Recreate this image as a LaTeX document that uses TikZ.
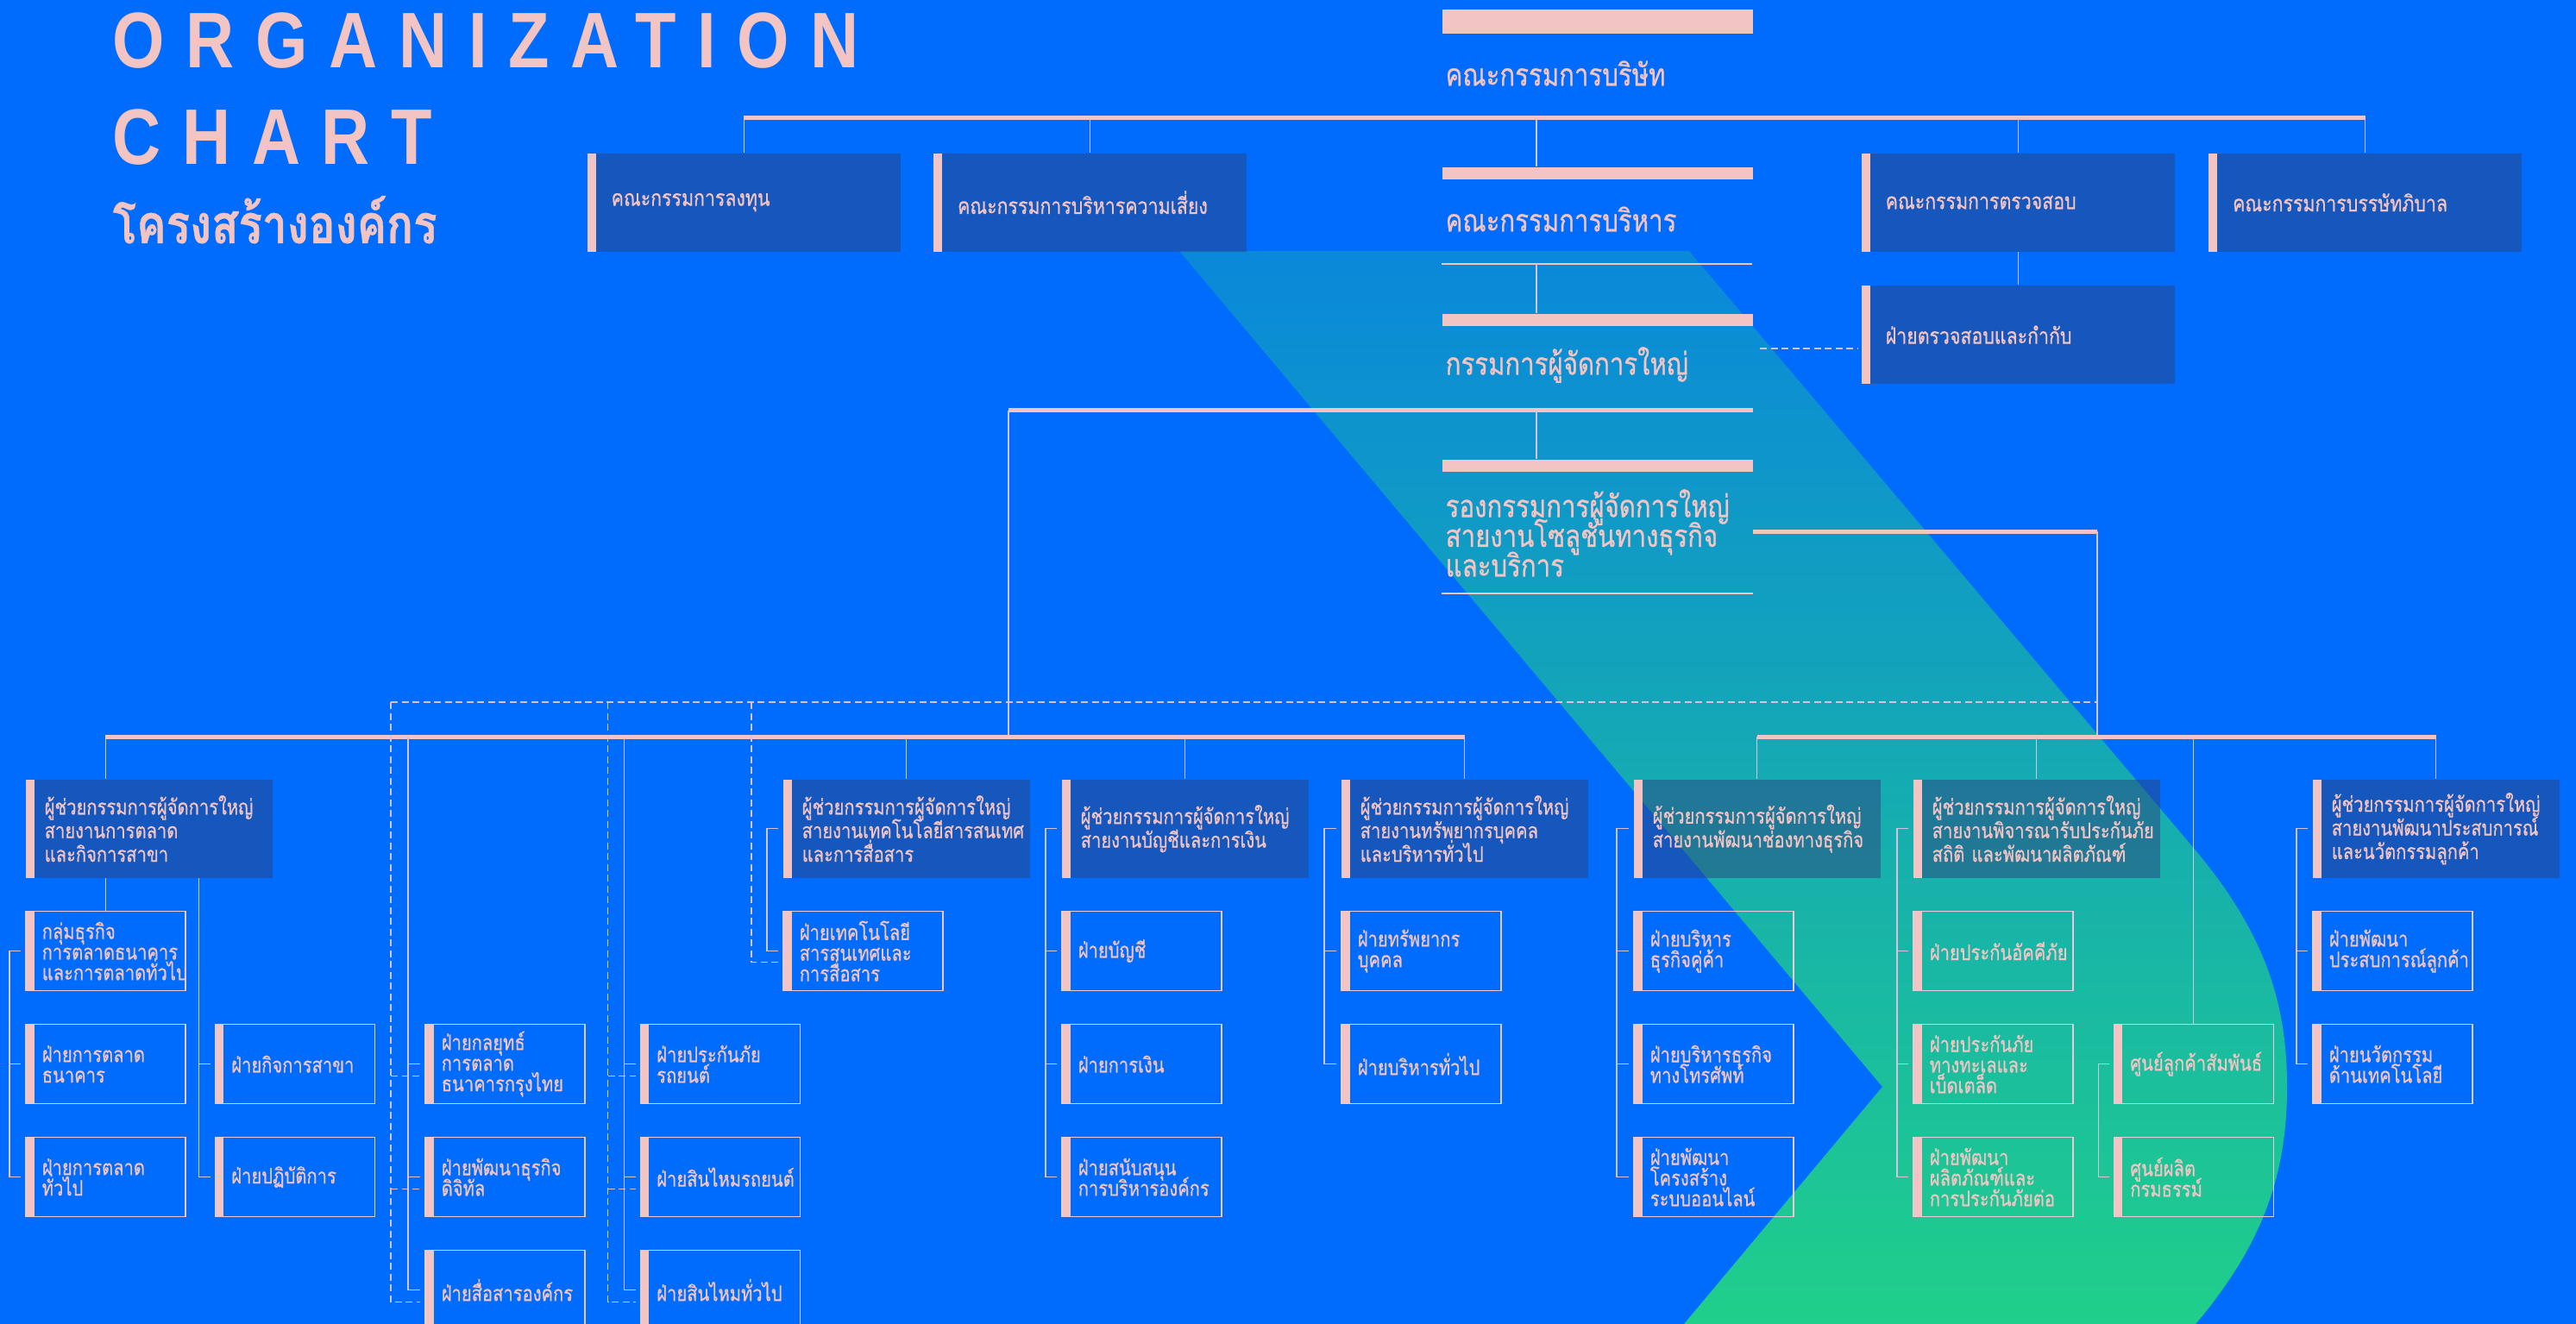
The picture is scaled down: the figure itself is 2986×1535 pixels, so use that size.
\documentclass[tikz,border=0pt]{standalone}
\usepackage{fontspec}
\setmainfont{Loma}[Script=Thai,FakeStretch=0.82,FakeBold=0.7]
\newfontfamily\orgtitle{Liberation Sans}[FakeStretch=0.85,LetterSpace=27]
\usetikzlibrary{positioning}
\definecolor{bgblue}{RGB}{0,108,254}
\definecolor{pinkc}{RGB}{243,196,196}
\definecolor{navy}{RGB}{44,67,126}
\definecolor{linec}{RGB}{210,196,222}
\definecolor{subline}{RGB}{232,202,216}
\definecolor{bandtop}{RGB}{10,136,218}
\definecolor{bandbot}{RGB}{32,207,138}
\lineskiplimit=-20pt
\newcommand\headfont{\fontsize{7}{7.8}\selectfont\lineskiplimit=-20pt}
\newcommand\topfont{\fontsize{7.4}{7.8}\selectfont\lineskiplimit=-20pt}
\newcommand\subfont{\fontsize{7}{6.8}\selectfont\lineskiplimit=-20pt}
\newcommand\cardfont{\fontsize{10.2}{9.8}\selectfont\lineskiplimit=-20pt}

\begin{document}
\begin{tikzpicture}[x=0.1mm,y=-0.1mm,node distance=3.75mm,
  head node/.style={rectangle,anchor=north west,fill=navy,fill opacity=0.5,text opacity=1,text=pinkc,
    align=left,text width=24.2mm,inner xsep=2.2mm,inner ysep=0pt,minimum height=11.4mm,font=\headfont,
    path picture={\fill[pinkc,fill opacity=1] (path picture bounding box.north west) rectangle ([xshift=1mm]path picture bounding box.south west);}},
  top node/.style={head node,text width=30.7mm,inner xsep=2.8mm,font=\topfont},
  sub node/.style={rectangle,anchor=north west,draw=subline,line width=0.15mm,text=pinkc,
    align=left,text width=14.7mm,inner xsep=1.9mm,inner ysep=0pt,minimum height=9.2mm,font=\subfont,
    path picture={\fill[pinkc] (path picture bounding box.north west) rectangle ([xshift=1mm]path picture bounding box.south west);}},
  card bar/.style={rectangle,anchor=north west,fill=pinkc,minimum width=36mm,minimum height=1.4mm,inner sep=0pt},
  card text/.style={anchor=west,inner sep=0pt,text=pinkc,align=left,font=\cardfont},
  bus/.style={pinkc,line width=0.5mm},
  rule/.style={pinkc,line width=0.15mm},
  link/.style={linec,line width=0.12mm},
  dashlink/.style={linec,line width=0.12mm,dash pattern=on 0.8mm off 0.45mm}]
\useasboundingbox (0,0) rectangle (2986,1535);
\fill[bgblue] (0,0) rectangle (2986,1535);
% band behind the chart
\shade[top color=bandtop,bottom color=bandbot] (1367,291) -- (1958,291) -- (2540,980)
  .. controls (2630,1085) and (2651,1170) .. (2651,1260)
  .. controls (2651,1350) and (2630,1435) .. (2545,1535) -- (1952,1535) -- (2182,1260) -- cycle;

% title
\node[anchor=base west,inner sep=0pt,text=pinkc,font={\orgtitle\bfseries\fontsize{26}{26}\selectfont}] (org) at (130,79) {ORGANIZATION};
\node[anchor=base west,inner sep=0pt,text=pinkc,font={\orgtitle\bfseries\fontsize{26}{26}\selectfont}] (chart) at (130,191) {CHART};
\node[anchor=base west,inner sep=0pt,text=pinkc,font={\bfseries\fontsize{17.8}{20}\selectfont}] (thaititle) at (130,282) {โครงสร้างองค์กร};

% board level
\coordinate (busA) at (0,137);
\coordinate (spine) at (1781,0);
\node[card bar,minimum height=2.8mm] (boardbar) at (1671,10) {};
\node[card text] (board) at (1675,85) {คณะกรรมการบริษัท};
\node[top node] (inv) at (680,177) {คณะกรรมการลงทุน};
\node[top node,right=3.7mm of inv] (risk) {คณะกรรมการบริหารความเสี่ยง};
\node[top node] (audit) at (2157,177) {คณะกรรมการตรวจสอบ};
\node[top node,right=3.8mm of audit] (gov) {คณะกรรมการบรรษัทภิบาล};
\node[top node,below=3.8mm of audit] (auditsub) {ฝ่ายตรวจสอบและกำกับ};

\node[card bar] (execbar) at (1671,193) {};
\node[card text] (exec) at (1675,254) {คณะกรรมการบริหาร};
\coordinate (execrule) at (1671,306);
\node[card bar] (mdbar) at (1671,363) {};
\node[card text] (md) at (1675,423) {กรรมการผู้จัดการใหญ่};
\coordinate (mdlink) at (2040,404);
\coordinate (mdline) at (1169,476);
\node[card bar] (vpbar) at (1671,532) {};
\node[card text] (vp) at (1675,618) {รองกรรมการผู้จัดการใหญ่\\สายงานโซลูชั่นทางธุรกิจ\\และบริการ};
\coordinate (vprule) at (1671,688);
\coordinate (vpturn) at (2431,616);
\coordinate (bus2) at (0,854);
\coordinate (dtop) at (0,814);

\draw[bus] (inv.north |- busA) -- (gov.north |- busA);
\foreach \n in {inv,risk,audit,gov} \draw[link] (\n.north |- busA) -- (\n.north);
\draw[link] (spine |- busA) -- (spine |- execbar.north);
\draw[link] (audit.south) -- (auditsub.north);
\draw[rule] (execrule) -- ++(360,0);
\draw[link] (spine |- execrule) -- (spine |- mdbar.north);
\draw[dashlink] (mdlink) -- ([xshift=-0.4mm]auditsub.west |- mdlink);
\draw[bus] (mdline) -- (mdbar.east |- mdline);
\draw[link] (spine |- mdline) -- (spine |- vpbar.north);
\draw[rule] (vprule) -- ++(361,0);
\draw[bus] (vpbar.east |- vpturn) -- (vpturn);
\draw[link] (vpturn) -- (vpturn |- bus2);
\draw[link] (mdline) -- (mdline |- bus2);

% assistant managers and divisions
\node[head node] (h1) at (29,903) {ผู้ช่วยกรรมการผู้จัดการใหญ่\\สายงานการตลาด\\และกิจการสาขา};
\node[sub node,below=of h1.south west,anchor=north west] (a1) {กลุ่มธุรกิจ\\การตลาดธนาคาร\\และการตลาดทั่วไป};
\node[sub node,below=of a1] (a2) {ฝ่ายการตลาด\\ธนาคาร};
\node[sub node,below=of a2] (a3) {ฝ่ายการตลาด\\ทั่วไป};
\node[sub node,right=3.3mm of a2] (b2) {ฝ่ายกิจการสาขา};
\node[sub node,below=of b2] (b3) {ฝ่ายปฏิบัติการ};
\node[sub node,right=5.7mm of b2] (c2) {ฝ่ายกลยุทธ์\\การตลาด\\ธนาคารกรุงไทย};
\node[sub node,below=of c2] (c3) {ฝ่ายพัฒนาธุรกิจ\\ดิจิทัล};
\node[sub node,below=of c3] (c4) {ฝ่ายสื่อสารองค์กร};
\node[sub node,right=6.3mm of c2] (d2) {ฝ่ายประกันภัย\\รถยนต์};
\node[sub node,below=of d2] (d3) {ฝ่ายสินไหมรถยนต์};
\node[sub node,below=of d3] (d4) {ฝ่ายสินไหมทั่วไป};

\node[head node] (h2) at (907,903) {ผู้ช่วยกรรมการผู้จัดการใหญ่\\สายงานเทคโนโลยีสารสนเทศ\\และการสื่อสาร};
\node[sub node,below=of h2.south west,anchor=north west] (it1) {ฝ่ายเทคโนโลยี\\สารสนเทศและ\\การสื่อสาร};

\node[head node] (h3) at (1230,903) {ผู้ช่วยกรรมการผู้จัดการใหญ่\\สายงานบัญชีและการเงิน};
\node[sub node,below=of h3.south west,anchor=north west] (ac1) {ฝ่ายบัญชี};
\node[sub node,below=of ac1] (ac2) {ฝ่ายการเงิน};
\node[sub node,below=of ac2] (ac3) {ฝ่ายสนับสนุน\\การบริหารองค์กร};

\node[head node] (h4) at (1554,903) {ผู้ช่วยกรรมการผู้จัดการใหญ่\\สายงานทรัพยากรบุคคล\\และบริหารทั่วไป};
\node[sub node,below=of h4.south west,anchor=north west] (hr1) {ฝ่ายทรัพยากร\\บุคคล};
\node[sub node,below=of hr1] (hr2) {ฝ่ายบริหารทั่วไป};

\node[head node] (h5) at (1893,903) {ผู้ช่วยกรรมการผู้จัดการใหญ่\\สายงานพัฒนาช่องทางธุรกิจ};
\node[sub node,below=of h5.south west,anchor=north west] (ch1) {ฝ่ายบริหาร\\ธุรกิจคู่ค้า};
\node[sub node,below=of ch1] (ch2) {ฝ่ายบริหารธุรกิจ\\ทางโทรศัพท์};
\node[sub node,below=of ch2] (ch3) {ฝ่ายพัฒนา\\โครงสร้าง\\ระบบออนไลน์};

\node[head node] (h6) at (2217,903) {ผู้ช่วยกรรมการผู้จัดการใหญ่\\สายงานพิจารณารับประกันภัย\\สถิติ และพัฒนาผลิตภัณฑ์};
\node[sub node,below=of h6.south west,anchor=north west] (uw1) {ฝ่ายประกันอัคคีภัย};
\node[sub node,below=of uw1] (uw2) {ฝ่ายประกันภัย\\ทางทะเลและ\\เบ็ดเตล็ด};
\node[sub node,below=of uw2] (uw3) {ฝ่ายพัฒนา\\ผลิตภัณฑ์และ\\การประกันภัยต่อ};
\node[sub node,right=4.6mm of uw2] (cc2) {ศูนย์ลูกค้าสัมพันธ์};
\node[sub node,below=of cc2] (cc3) {ศูนย์ผลิต\\กรมธรรม์};

\node[head node] (h7) at (2680,903) {ผู้ช่วยกรรมการผู้จัดการใหญ่\\สายงานพัฒนาประสบการณ์\\และนวัตกรรมลูกค้า};
\node[sub node,below=of h7.south west,anchor=north west] (cx1) {ฝ่ายพัฒนา\\ประสบการณ์ลูกค้า};
\node[sub node,below=of cx1] (cx2) {ฝ่ายนวัตกรรม\\ด้านเทคโนโลยี};

% buses and drops
\draw[bus] (a1.north |- bus2) -- (h4.north |- bus2);
\draw[bus] (h5.north |- bus2) -- (h7.north |- bus2);
\draw[link] (a1.north |- bus2) -- (a1.north |- h1.north);
\draw[link] (a1.north |- h1.south) -- (a1.north);
\foreach \n in {h2,h3,h4,h5,h6,h7} \draw[link] (\n.north |- bus2) -- (\n.north);
\draw[link] (cc2.north |- bus2) -- (cc2.north);

% brackets
\draw[link] ([xshift=-0.5mm]a1.west) -| ([xshift=-1.8mm]a3.west) -- ([xshift=-0.5mm]a3.west);
\draw[link] ([xshift=-1.8mm]a2.west) -- ([xshift=-0.5mm]a2.west);
\draw[link] ([xshift=-1.8mm]b2.west |- h1.south) -- ([xshift=-1.8mm]b3.west) -- ([xshift=-0.5mm]b3.west);
\draw[link] ([xshift=-1.8mm]b2.west) -- ([xshift=-0.5mm]b2.west);
\draw[link] ([xshift=-1.9mm]c2.west |- bus2) -- ([xshift=-1.9mm]c4.west) -- ([xshift=-0.5mm]c4.west);
\foreach \n in {c2,c3} \draw[link] ([xshift=-1.9mm]\n.west) -- ([xshift=-0.5mm]\n.west);
\draw[link] ([xshift=-1.8mm]d2.west |- bus2) -- ([xshift=-1.8mm]d4.west) -- ([xshift=-0.5mm]d4.west);
\foreach \n in {d2,d3} \draw[link] ([xshift=-1.8mm]\n.west) -- ([xshift=-0.5mm]\n.west);
\draw[link] ([xshift=-0.5mm]h2.west) -| ([xshift=-1.8mm]it1.west) -- ([xshift=-0.5mm]it1.west);
\draw[link] ([xshift=-0.5mm]h3.west) -| ([xshift=-1.8mm]ac3.west) -- ([xshift=-0.5mm]ac3.west);
\foreach \n in {ac1,ac2} \draw[link] ([xshift=-1.8mm]\n.west) -- ([xshift=-0.5mm]\n.west);
\draw[link] ([xshift=-0.5mm]h4.west) -| ([xshift=-1.9mm]hr2.west) -- ([xshift=-0.5mm]hr2.west);
\draw[link] ([xshift=-1.9mm]hr1.west) -- ([xshift=-0.5mm]hr1.west);
\draw[link] ([xshift=-0.5mm]h5.west) -| ([xshift=-1.9mm]ch3.west) -- ([xshift=-0.5mm]ch3.west);
\foreach \n in {ch1,ch2} \draw[link] ([xshift=-1.9mm]\n.west) -- ([xshift=-0.5mm]\n.west);
\draw[link] ([xshift=-0.5mm]h6.west) -| ([xshift=-1.8mm]uw3.west) -- ([xshift=-0.5mm]uw3.west);
\foreach \n in {uw1,uw2} \draw[link] ([xshift=-1.8mm]\n.west) -- ([xshift=-0.5mm]\n.west);
\draw[link] ([xshift=-0.5mm]cc2.west) -| ([xshift=-1.7mm]cc3.west) -- ([xshift=-0.5mm]cc3.west);
\draw[link] ([xshift=-0.5mm]h7.west) -| ([xshift=-1.8mm]cx2.west) -- ([xshift=-0.5mm]cx2.west);
\draw[link] ([xshift=-1.8mm]cx1.west) -- ([xshift=-0.5mm]cx1.west);

% dashed lines
\draw[dashlink] ([xshift=-3.9mm]c2.west |- dtop) -- (vpturn |- dtop);
\draw[dashlink] ([xshift=-3.9mm]c2.west |- dtop) -- ([xshift=-3.9mm,yshift=-1.35mm]c4.west) -- ([xshift=-0.5mm,yshift=-1.35mm]c4.west);
\foreach \n in {c2,c3} \draw[dashlink] ([xshift=-3.9mm,yshift=-1.35mm]\n.west) -- ([xshift=-0.5mm,yshift=-1.35mm]\n.west);
\draw[dashlink] ([xshift=-3.7mm]d2.west |- dtop) -- ([xshift=-3.7mm,yshift=-1.35mm]d4.west) -- ([xshift=-0.5mm,yshift=-1.35mm]d4.west);
\foreach \n in {d2,d3} \draw[dashlink] ([xshift=-3.7mm,yshift=-1.35mm]\n.west) -- ([xshift=-0.5mm,yshift=-1.35mm]\n.west);
\draw[dashlink] ([xshift=-3.6mm]it1.west |- dtop) -- ([xshift=-3.6mm,yshift=-1.3mm]it1.west) -- ([xshift=-0.5mm,yshift=-1.3mm]it1.west);
\end{tikzpicture}
\end{document}
